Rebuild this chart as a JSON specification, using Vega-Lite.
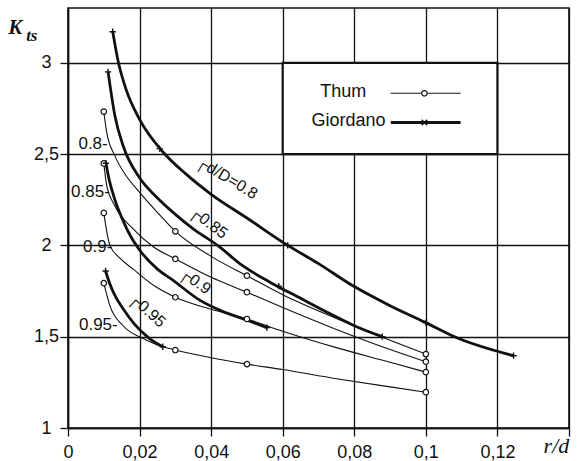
{
 "$schema": "https://vega.github.io/schema/vega-lite/v6.json",
 "width": 501, "height": 420,
 "autosize": {"type": "none"},
 "padding": {"left": 68, "top": 8, "right": 8, "bottom": 33},
 "background": "white",
 "config": {"view": {"stroke": "#111", "strokeWidth": 1.6}, "font": "Liberation Sans"},
 "datasets": {
  "curves": [
   {"src":"Thum","dD":"0.8","x":0.01,"y":2.733},{"src":"Thum","dD":"0.8","x":0.0108,"y":2.62},{"src":"Thum","dD":"0.8","x":0.0131,"y":2.49},{"src":"Thum","dD":"0.8","x":0.0163,"y":2.38},{"src":"Thum","dD":"0.8","x":0.02,"y":2.29},{"src":"Thum","dD":"0.8","x":0.025,"y":2.18},{"src":"Thum","dD":"0.8","x":0.03,"y":2.077},{"src":"Thum","dD":"0.8","x":0.04,"y":1.94},{"src":"Thum","dD":"0.8","x":0.05,"y":1.834},{"src":"Thum","dD":"0.8","x":0.06,"y":1.73},{"src":"Thum","dD":"0.8","x":0.075,"y":1.6},{"src":"Thum","dD":"0.8","x":0.09,"y":1.48},{"src":"Thum","dD":"0.8","x":0.1,"y":1.405},
   {"src":"Thum","dD":"0.85","x":0.01,"y":2.449},{"src":"Thum","dD":"0.85","x":0.0108,"y":2.33},{"src":"Thum","dD":"0.85","x":0.013,"y":2.22},{"src":"Thum","dD":"0.85","x":0.0182,"y":2.09},{"src":"Thum","dD":"0.85","x":0.024,"y":1.99},{"src":"Thum","dD":"0.85","x":0.03,"y":1.926},{"src":"Thum","dD":"0.85","x":0.04,"y":1.825},{"src":"Thum","dD":"0.85","x":0.05,"y":1.744},{"src":"Thum","dD":"0.85","x":0.06,"y":1.66},{"src":"Thum","dD":"0.85","x":0.075,"y":1.54},{"src":"Thum","dD":"0.85","x":0.09,"y":1.43},{"src":"Thum","dD":"0.85","x":0.1,"y":1.363},
   {"src":"Thum","dD":"0.9","x":0.01,"y":2.178},{"src":"Thum","dD":"0.9","x":0.0117,"y":2.0},{"src":"Thum","dD":"0.9","x":0.0145,"y":1.93},{"src":"Thum","dD":"0.9","x":0.0182,"y":1.87},{"src":"Thum","dD":"0.9","x":0.024,"y":1.78},{"src":"Thum","dD":"0.9","x":0.03,"y":1.716},{"src":"Thum","dD":"0.9","x":0.04,"y":1.65},{"src":"Thum","dD":"0.9","x":0.05,"y":1.597},{"src":"Thum","dD":"0.9","x":0.06,"y":1.53},{"src":"Thum","dD":"0.9","x":0.075,"y":1.44},{"src":"Thum","dD":"0.9","x":0.09,"y":1.36},{"src":"Thum","dD":"0.9","x":0.1,"y":1.306},
   {"src":"Thum","dD":"0.95","x":0.01,"y":1.793},{"src":"Thum","dD":"0.95","x":0.0117,"y":1.67},{"src":"Thum","dD":"0.95","x":0.0154,"y":1.56},{"src":"Thum","dD":"0.95","x":0.021,"y":1.49},{"src":"Thum","dD":"0.95","x":0.025,"y":1.455},{"src":"Thum","dD":"0.95","x":0.03,"y":1.427},{"src":"Thum","dD":"0.95","x":0.04,"y":1.385},{"src":"Thum","dD":"0.95","x":0.05,"y":1.35},{"src":"Thum","dD":"0.95","x":0.06,"y":1.32},{"src":"Thum","dD":"0.95","x":0.075,"y":1.27},{"src":"Thum","dD":"0.95","x":0.09,"y":1.225},{"src":"Thum","dD":"0.95","x":0.1,"y":1.196},
   {"src":"Giordano","dD":"0.8","x":0.0125,"y":3.17},{"src":"Giordano","dD":"0.8","x":0.014,"y":3.01},{"src":"Giordano","dD":"0.8","x":0.0163,"y":2.85},{"src":"Giordano","dD":"0.8","x":0.02,"y":2.69},{"src":"Giordano","dD":"0.8","x":0.0266,"y":2.51},{"src":"Giordano","dD":"0.8","x":0.033,"y":2.39},{"src":"Giordano","dD":"0.8","x":0.04,"y":2.28},{"src":"Giordano","dD":"0.8","x":0.05,"y":2.15},{"src":"Giordano","dD":"0.8","x":0.0614,"y":2.0},{"src":"Giordano","dD":"0.8","x":0.07,"y":1.9},{"src":"Giordano","dD":"0.8","x":0.0795,"y":1.78},{"src":"Giordano","dD":"0.8","x":0.09,"y":1.67},{"src":"Giordano","dD":"0.8","x":0.1,"y":1.577},{"src":"Giordano","dD":"0.8","x":0.108,"y":1.5},{"src":"Giordano","dD":"0.8","x":0.1245,"y":1.396},
   {"src":"Giordano","dD":"0.85","x":0.0112,"y":2.95},{"src":"Giordano","dD":"0.85","x":0.0131,"y":2.71},{"src":"Giordano","dD":"0.85","x":0.0155,"y":2.54},{"src":"Giordano","dD":"0.85","x":0.02,"y":2.37},{"src":"Giordano","dD":"0.85","x":0.025,"y":2.26},{"src":"Giordano","dD":"0.85","x":0.03,"y":2.17},{"src":"Giordano","dD":"0.85","x":0.035,"y":2.09},{"src":"Giordano","dD":"0.85","x":0.0418,"y":2.0},{"src":"Giordano","dD":"0.85","x":0.0487,"y":1.89},{"src":"Giordano","dD":"0.85","x":0.0563,"y":1.8},{"src":"Giordano","dD":"0.85","x":0.065,"y":1.71},{"src":"Giordano","dD":"0.85","x":0.073,"y":1.628},{"src":"Giordano","dD":"0.85","x":0.08,"y":1.56},{"src":"Giordano","dD":"0.85","x":0.0878,"y":1.5},
   {"src":"Giordano","dD":"0.9","x":0.0106,"y":2.45},{"src":"Giordano","dD":"0.9","x":0.0115,"y":2.36},{"src":"Giordano","dD":"0.9","x":0.0131,"y":2.25},{"src":"Giordano","dD":"0.9","x":0.0155,"y":2.13},{"src":"Giordano","dD":"0.9","x":0.0175,"y":2.05},{"src":"Giordano","dD":"0.9","x":0.02,"y":1.975},{"src":"Giordano","dD":"0.9","x":0.025,"y":1.87},{"src":"Giordano","dD":"0.9","x":0.0293,"y":1.81},{"src":"Giordano","dD":"0.9","x":0.0368,"y":1.7},{"src":"Giordano","dD":"0.9","x":0.043,"y":1.64},{"src":"Giordano","dD":"0.9","x":0.0498,"y":1.592},{"src":"Giordano","dD":"0.9","x":0.0556,"y":1.55},
   {"src":"Giordano","dD":"0.95","x":0.0105,"y":1.86},{"src":"Giordano","dD":"0.95","x":0.0115,"y":1.8},{"src":"Giordano","dD":"0.95","x":0.013,"y":1.73},{"src":"Giordano","dD":"0.95","x":0.0155,"y":1.65},{"src":"Giordano","dD":"0.95","x":0.0185,"y":1.57},{"src":"Giordano","dD":"0.95","x":0.0228,"y":1.49},{"src":"Giordano","dD":"0.95","x":0.0265,"y":1.445}
  ],
  "thumPts": [
   {"dD":"0.8","x":0.01,"y":2.733},{"dD":"0.8","x":0.03,"y":2.077},{"dD":"0.8","x":0.05,"y":1.834},{"dD":"0.8","x":0.1,"y":1.405},
   {"dD":"0.85","x":0.01,"y":2.449},{"dD":"0.85","x":0.03,"y":1.926},{"dD":"0.85","x":0.05,"y":1.744},{"dD":"0.85","x":0.1,"y":1.363},
   {"dD":"0.9","x":0.01,"y":2.178},{"dD":"0.9","x":0.03,"y":1.716},{"dD":"0.9","x":0.05,"y":1.597},{"dD":"0.9","x":0.1,"y":1.306},
   {"dD":"0.95","x":0.01,"y":1.793},{"dD":"0.95","x":0.03,"y":1.427},{"dD":"0.95","x":0.05,"y":1.35},{"dD":"0.95","x":0.1,"y":1.196}
  ],
  "giorPts": [
   {"dD":"0.8","x":0.0125,"y":3.17},{"dD":"0.8","x":0.0256,"y":2.53},{"dD":"0.8","x":0.0614,"y":2.0},{"dD":"0.8","x":0.1,"y":1.577},{"dD":"0.8","x":0.1245,"y":1.396},
   {"dD":"0.85","x":0.0112,"y":2.95},{"dD":"0.85","x":0.0589,"y":1.777},{"dD":"0.85","x":0.0878,"y":1.5},
   {"dD":"0.9","x":0.0106,"y":2.45},{"dD":"0.9","x":0.0556,"y":1.55},
   {"dD":"0.95","x":0.0105,"y":1.86},{"dD":"0.95","x":0.0265,"y":1.445}
  ],
  "xMinorShort": [{"x":0.005},{"x":0.015},{"x":0.025},{"x":0.035},{"x":0.045},{"x":0.055},{"x":0.065},{"x":0.075},{"x":0.085},{"x":0.095},{"x":0.105},{"x":0.115},{"x":0.125},{"x":0.135}],
  "xMinorLong": [{"x":0.01},{"x":0.03},{"x":0.05},{"x":0.07},{"x":0.09},{"x":0.11},{"x":0.13}],
  "yMinor": [{"y":1.1},{"y":1.2},{"y":1.3},{"y":1.4},{"y":1.6},{"y":1.7},{"y":1.8},{"y":1.9},{"y":2.1},{"y":2.2},{"y":2.3},{"y":2.4},{"y":2.6},{"y":2.7},{"y":2.8},{"y":2.9},{"y":3.1},{"y":3.2}],
  "box": [{"x":0.06,"x2":0.12,"y":2.5,"y2":3}],
  "legendText": [{"text":"Thum","x":0.0769,"y":2.84},{"text":"Giordano","x":0.0784,"y":2.68}],
  "legendLine": [{"src":"Thum","x":0.0902,"x2":0.1097,"y":2.833},{"src":"Giordano","x":0.0902,"x2":0.1097,"y":2.673}],
  "legendMark": [{"src":"Thum","x":0.0996,"y":2.833},{"src":"Giordano","x":0.0996,"y":2.673}],
  "leftLabels": [{"text":"0.8-","x":0.0111,"y":2.553},{"text":"0.85-","x":0.0117,"y":2.29},{"text":"0.9-","x":0.0124,"y":1.99},{"text":"0.95-","x":0.0139,"y":1.564}],
  "curveLabels": [{"text":"┌d/D=0.8","dD":"0.8","x":0.0445,"y":2.37},{"text":"┌0.85","dD":"0.85","x":0.0393,"y":2.125},{"text":"┌0.9","dD":"0.9","x":0.0356,"y":1.805},{"text":"┌0.95","dD":"0.95","x":0.0222,"y":1.645}],
  "titles": [{"text":"K","x":-0.0167,"y":3.155},{"text":"ts","x":-0.0117,"y":3.121},{"text":"r/d","x":0.1329,"y":0.861}]
 },
 "encoding": {
  "x": {"field":"x","type":"quantitative","scale":{"domain":[0,0.14],"nice":false,"zero":false},
   "axis": {"values": [0,0.02,0.04,0.06,0.08,0.1,0.12,0.14],
    "title": null, "grid": true, "gridColor": "#111", "gridWidth": 1.3,
    "domainColor": "#111", "domainWidth": 1.6, "tickColor": "#111", "tickWidth": 1.3, "tickSize": 8,
    "labelExpr": "datum.value<0.13 ? replace(format(datum.value,'~g'),'.',',') : ''",
    "labelFontSize": 18, "labelColor": "#111", "labelPadding": 7, "labelOverlap": false, "labelFlush": false, "labelBound": false}},
  "y": {"field":"y","type":"quantitative","scale":{"domain":[1,3.3],"nice":false,"zero":false},
   "axis": {"values": [1,1.5,2,2.5,3],
    "title": null, "grid": true, "gridColor": "#111", "gridWidth": 1.3,
    "domainColor": "#111", "domainWidth": 1.6, "tickColor": "#111", "tickWidth": 1.3, "tickSize": 8,
    "labelExpr": "replace(format(datum.value,'~g'),'.',',')",
    "labelFontSize": 18, "labelColor": "#111", "labelPadding": 14, "labelAlign": "center", "labelOverlap": false, "labelFlush": false, "labelBound": false}}
 },
 "layer": [
  {"data": {"name": "xMinorShort"},
   "mark": {"type": "rule", "color": "#111", "strokeWidth": 1.4},
   "encoding": {"y": {"datum": 1}, "y2": {"datum": 1.035}}},
  {"data": {"name": "xMinorLong"},
   "mark": {"type": "rule", "color": "#111", "strokeWidth": 1.4},
   "encoding": {"y": {"datum": 1}, "y2": {"datum": 1.06}}},
  {"data": {"name": "yMinor"},
   "mark": {"type": "rule", "color": "#111", "strokeWidth": 1.4},
   "encoding": {"x": {"datum": 0}, "x2": {"datum": 0.0018}}},
  {"data": {"name": "curves"}, "transform": [{"filter": "datum.src=='Thum'"}],
   "mark": {"type": "line", "color": "#111", "strokeWidth": 1.1, "interpolate": "monotone"},
   "encoding": {"detail": {"field": "dD"}}},
  {"data": {"name": "curves"}, "transform": [{"filter": "datum.src=='Giordano'"}],
   "mark": {"type": "line", "color": "#111", "strokeWidth": 2.8, "interpolate": "monotone"},
   "encoding": {"detail": {"field": "dD"}}},
  {"data": {"name": "thumPts"},
   "mark": {"type": "point", "shape": "circle", "size": 30, "filled": true, "fill": "white", "stroke": "#111", "strokeWidth": 1.2, "opacity": 1}},
  {"data": {"name": "giorPts"},
   "mark": {"type": "point", "shape": "M-1,0H1M0,-1V1", "size": 40, "filled": false, "stroke": "#111", "strokeWidth": 1.4, "opacity": 1}},
  {"data": {"name": "box"},
   "mark": {"type": "rect", "fill": "white", "stroke": "#111", "strokeWidth": 2.2},
   "encoding": {"x2": {"field": "x2"}, "y2": {"field": "y2"}}},
  {"data": {"name": "legendText"},
   "mark": {"type": "text", "fontSize": 18, "align": "center", "baseline": "middle", "color": "#111", "font": "Liberation Sans"},
   "encoding": {"text": {"field": "text"}}},
  {"data": {"name": "legendLine"}, "transform": [{"filter": "datum.src=='Thum'"}],
   "mark": {"type": "rule", "color": "#111", "strokeWidth": 1.1},
   "encoding": {"x2": {"field": "x2"}}},
  {"data": {"name": "legendLine"}, "transform": [{"filter": "datum.src=='Giordano'"}],
   "mark": {"type": "rule", "color": "#111", "strokeWidth": 2.8},
   "encoding": {"x2": {"field": "x2"}}},
  {"data": {"name": "legendMark"}, "transform": [{"filter": "datum.src=='Thum'"}],
   "mark": {"type": "point", "shape": "circle", "size": 30, "filled": true, "fill": "white", "stroke": "#111", "strokeWidth": 1.2, "opacity": 1}},
  {"data": {"name": "legendMark"}, "transform": [{"filter": "datum.src=='Giordano'"}],
   "mark": {"type": "point", "shape": "M-1,-1L1,1M-1,1L1,-1", "size": 30, "filled": false, "stroke": "#111", "strokeWidth": 1.4, "opacity": 1}},
  {"data": {"name": "leftLabels"},
   "mark": {"type": "text", "fontSize": 17, "align": "right", "baseline": "middle", "color": "#111", "font": "Liberation Sans"},
   "encoding": {"text": {"field": "text"}}},
  {"data": {"name": "curveLabels"}, "transform": [{"filter": "datum.dD=='0.8'"}],
   "mark": {"type": "text", "fontSize": 16, "align": "center", "baseline": "middle", "angle": 31, "color": "#111", "font": "Liberation Sans"},
   "encoding": {"text": {"field": "text"}}},
  {"data": {"name": "curveLabels"}, "transform": [{"filter": "datum.dD=='0.85'"}],
   "mark": {"type": "text", "fontSize": 16, "align": "center", "baseline": "middle", "angle": 37, "color": "#111", "font": "Liberation Sans"},
   "encoding": {"text": {"field": "text"}}},
  {"data": {"name": "curveLabels"}, "transform": [{"filter": "datum.dD=='0.9'"}],
   "mark": {"type": "text", "fontSize": 16, "align": "center", "baseline": "middle", "angle": 35, "color": "#111", "font": "Liberation Sans"},
   "encoding": {"text": {"field": "text"}}},
  {"data": {"name": "curveLabels"}, "transform": [{"filter": "datum.dD=='0.95'"}],
   "mark": {"type": "text", "fontSize": 16, "align": "center", "baseline": "middle", "angle": 42, "color": "#111", "font": "Liberation Sans"},
   "encoding": {"text": {"field": "text"}}},
  {"data": {"name": "titles"}, "transform": [{"filter": "datum.text=='K'"}],
   "mark": {"type": "text", "fontSize": 21, "align": "left", "baseline": "alphabetic", "font": "Liberation Serif", "fontStyle": "italic", "fontWeight": "bold", "color": "#111"},
   "encoding": {"text": {"field": "text"}}},
  {"data": {"name": "titles"}, "transform": [{"filter": "datum.text=='ts'"}],
   "mark": {"type": "text", "fontSize": 17, "align": "left", "baseline": "alphabetic", "font": "Liberation Serif", "fontStyle": "italic", "fontWeight": "bold", "color": "#111"},
   "encoding": {"text": {"field": "text"}}},
  {"data": {"name": "titles"}, "transform": [{"filter": "datum.text=='r/d'"}],
   "mark": {"type": "text", "fontSize": 22, "align": "left", "baseline": "alphabetic", "font": "Liberation Serif", "fontStyle": "italic", "color": "#111"},
   "encoding": {"text": {"field": "text"}}}
 ]
}
